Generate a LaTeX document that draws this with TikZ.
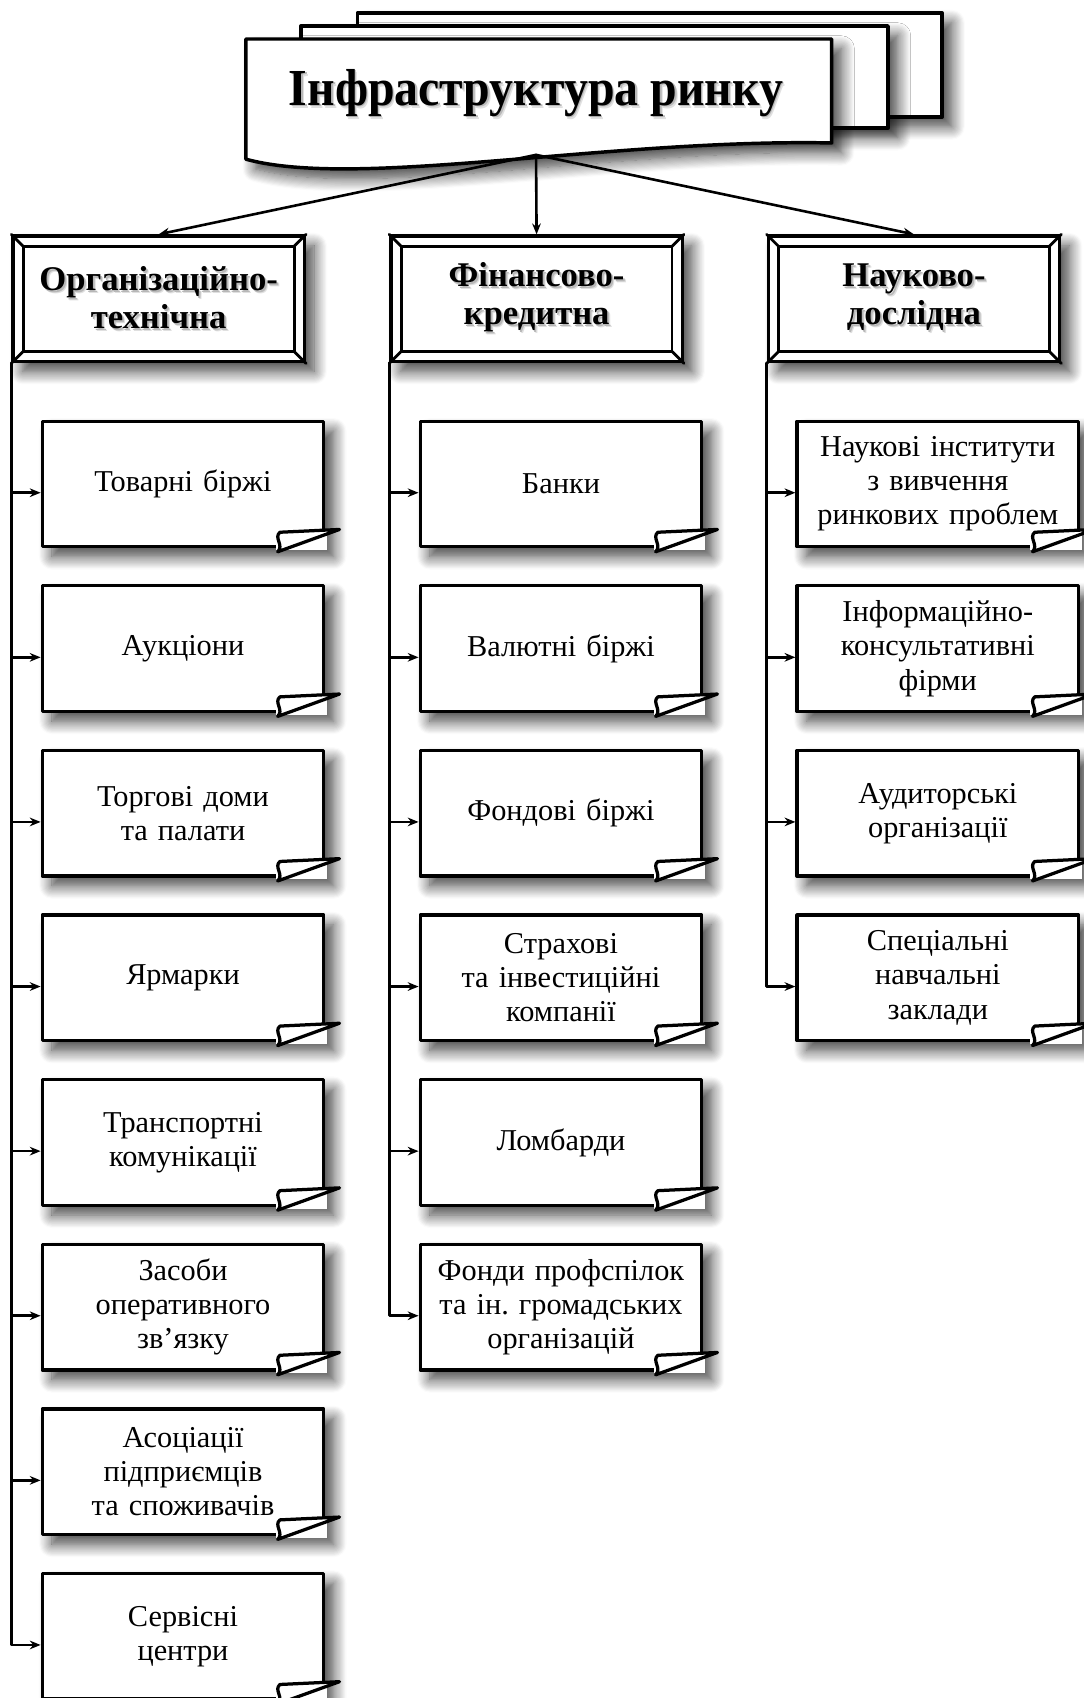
\documentclass[tikz,border=0pt]{standalone}
\usepackage{fontspec}
\setmainfont{Liberation Serif}
\usetikzlibrary{arrows.meta,shadows.blur}

\newcommand\shadowed[1]{\leavevmode
  \rlap{\kern1.3pt\raisebox{-1.3pt}{\color{black!12}#1}}%
  \rlap{\kern0.8pt\raisebox{-0.8pt}{\color{black!28}#1}}#1}

\tikzset{
  box shadow/.style={blur shadow={shadow xshift=4.5pt,shadow yshift=-4.5pt,shadow blur radius=6pt,
    shadow blur steps=12,shadow opacity=75}},
  headbox/.style={draw,line width=1.6pt,fill=white,box shadow},
  group/.style={draw,line width=1.6pt,fill=white,minimum width=134.5pt,minimum height=58pt,
    inner sep=0pt,align=center,font=\fontsize{16}{17.5}\selectfont\bfseries,box shadow},
  item/.style={draw,line width=1.5pt,fill=white,minimum width=130pt,minimum height=58pt,
    inner sep=0pt,text width=128pt,align=center,font=\fontsize{14}{15.75}\selectfont,box shadow},
  conn/.style={line width=1.2pt,-{Stealth[length=5pt,width=4pt]}},
  flap/.style={line width=1.5pt,fill=white,line join=round},
}

\begin{document}
\frenchspacing
\begin{tikzpicture}[line cap=round,line join=round,x=0.5pt,y=-0.5pt]
\useasboundingbox (0,0) rectangle (1001,1568);

% title sheets
\draw [headbox] (330,12) rectangle (870,108);
\draw [headbox] (278,24) rectangle (820,118);
\draw [headbox] (227,36) -- (768,36) -- (768,132)
  .. controls (560,128) and (330,175) .. (227,147) -- cycle;
\node [font=\fontsize{24}{28}\selectfont\bfseries] (infra) at (495,87)
  {\scalebox{0.92}[1]{\shadowed{Інфраструктура ринку}}};
\coordinate (src) at (495,143);

% groups
\node [group] (org) at (146.5,276) {\shadowed{Організаційно-}\\\shadowed{технічна}};
\node [group] (fin) at (495.5,276) {\shadowed{Фінансово-}\\\shadowed{кредитна}};
\node [group] (sci) at (844,276) {\shadowed{Науково-}\\\shadowed{дослідна}};

\foreach \g in {org,fin,sci} {
  \draw [line width=1.3pt] ([shift={(5.5pt,-5.5pt)}]\g.north west) rectangle ([shift={(-5.5pt,5.5pt)}]\g.south east);
  \draw [line width=1.3pt] (\g.north west) -- ++(5.5pt,-5.5pt);
  \draw [line width=1.3pt] (\g.north east) -- ++(-5.5pt,-5.5pt);
  \draw [line width=1.3pt] (\g.south west) -- ++(5.5pt,5.5pt);
  \draw [line width=1.3pt] (\g.south east) -- ++(-5.5pt,5.5pt);
}

\draw [conn] (src) -- (org.north);
\draw [conn] (src) -- (fin.north);
\draw [conn] (src) -- (sci.north);

% items
\foreach \txt [count=\i] in {Товарні біржі, Аукціони, {Торгові доми\\та палати}, Ярмарки,
  {Транспортні\\комунікації}, {Засоби\\оперативного\\зв'язку},
  {Асоціації\\підприємців\\та споживачів}, {Сервісні\\центри}}
  \node [item] (org\i) at (169,{447+152*(\i-1)}) {\txt};

\foreach \txt [count=\i] in {Банки, Валютні біржі, Фондові біржі,
  {Страхові\\та інвестиційні\\компанії}, Ломбарди,
  {Фонди профспілок\\та ін. громадських\\організацій}}
  \node [item] (fin\i) at (518,{447+152*(\i-1)}) {\txt};

\foreach \txt [count=\i] in {{Наукові інститути\\з вивчення\\ринкових проблем},
  {Інформаційно-\\консультативні\\фірми}, {Аудиторські\\організації},
  {Спеціальні\\навчальні\\заклади}}
  \node [item] (sci\i) at (866,{447+152*(\i-1)}) {\txt};

% folded corners
\foreach \n in {org1,org2,org3,org4,org5,org6,org7,org8,fin1,fin2,fin3,fin4,fin5,fin6,sci1,sci2,sci3,sci4} {
  \fill [white] ([shift={(-23pt,-0.8pt)}]\n.south east) rectangle ([shift={(0.8pt,8pt)}]\n.south east);
  \draw [flap] ([shift={(-21pt,7.5pt)}]\n.south east) -- ([shift={(6.5pt,8.8pt)}]\n.south east)
    -- ([shift={(-22pt,-1.5pt)}]\n.south east)
    .. controls ([shift={(-19pt,1.5pt)}]\n.south east) and ([shift={(-24pt,5pt)}]\n.south east)
    .. ([shift={(-21pt,7.5pt)}]\n.south east) -- cycle;
}

% connectors
\foreach \i in {1,...,8}
  \draw [conn] (org.south west) |- ([yshift=-4pt]org\i.west);
\foreach \i in {1,...,6}
  \draw [conn] (fin.south west) |- ([yshift=-4pt]fin\i.west);
\foreach \i in {1,...,4}
  \draw [conn] (sci.south west) |- ([yshift=-4pt]sci\i.west);

\end{tikzpicture}
\end{document}
